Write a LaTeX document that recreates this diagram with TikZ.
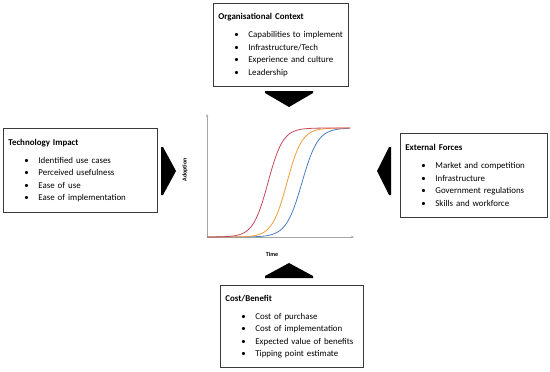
\documentclass[tikz,border=0pt]{standalone}
\usepackage{fontspec}
\setmainfont{Carlito}
\usetikzlibrary{arrows.meta}
\definecolor{frame}{HTML}{3A3A3A}
\definecolor{axisgray}{HTML}{A6A6A6}
\definecolor{curvered}{HTML}{C8475A}
\definecolor{curveorange}{HTML}{F39C38}
\definecolor{curveblue}{HTML}{4A7EC2}
\newcommand{\bul}[1]{\hspace*{16pt}\makebox[14pt][l]{\textbullet}\mbox{#1}}
\tikzset{
  factorbox/.style={draw=frame,line width=.8pt,fill=white,anchor=north west,
    align=left,inner xsep=5pt,inner ysep=4pt,font=\fontsize{8.9}{12.5}\selectfont},
  pointer/.style={fill=black},
  axis/.style={-{Stealth[length=3pt,width=2.5pt]},draw=axisgray,line width=.5pt},
  scurve/.style={line width=.8pt},
  axislabel/.style={font=\fontsize{6}{6}\selectfont\bfseries},
}

\begin{document}
\begin{tikzpicture}[x=1pt,y=-1pt]
\useasboundingbox (0,0) rectangle (550,372);
% factor boxes
\node[factorbox,text width=125pt,minimum height=83pt] (orgctx) at (213,3)
  {\textbf{Organisational Context}\\[5.5pt]\bul{Capabilities to implement}\\\bul{Infrastructure/Tech}\\\bul{Experience and culture}\\\bul{Leadership}};
\node[factorbox,text width=144pt,minimum height=84pt] (techimp) at (3,128)
  {\textbf{Technology Impact}\\[5.5pt]\bul{Identified use cases}\\\bul{Perceived usefulness}\\\bul{Ease of use}\\\bul{Ease of implementation}};
\node[factorbox,text width=137pt,minimum height=84pt] (extforce) at (400,133)
  {\textbf{External Forces}\\[5.5pt]\bul{Market and competition}\\\bul{Infrastructure}\\\bul{Government regulations}\\\bul{Skills and workforce}};
\node[factorbox,text width=133pt,minimum height=82pt] (costben) at (220,285)
  {\textbf{Cost/Benefit}\\[5.5pt]\bul{Cost of purchase}\\\bul{Cost of implementation}\\\bul{Expected value of benefits}\\\bul{Tipping point estimate}};
% pointers towards the chart
\fill[pointer] (265,91) -- (313,91) -- (313,93) -- (289,107) -- (265,93) -- cycle;
\fill[pointer] (161,147) -- (163,147) -- (176,171) -- (163,195) -- (161,195) -- cycle;
\fill[pointer] (391,147) -- (389,147) -- (377,171) -- (389,195) -- (391,195) -- cycle;
\fill[pointer] (265,278) -- (313,278) -- (313,276) -- (289,263) -- (265,276) -- cycle;
% adoption chart
\coordinate (origin) at (207,237);
\coordinate (ytop) at (207,114);
\coordinate (xend) at (354,237);
\draw[axis] (origin) -- (ytop);
\draw[axis] (origin) -- (xend);
\draw[scurve,curveblue] plot[domain=207:350,samples=120] (\x,{237-109/(1+exp(min(9,-(\x-302)/8)))});
\draw[scurve,curveorange] plot[domain=207:350,samples=120] (\x,{237-109/(1+exp(min(9,-(\x-287)/7.5)))});
\draw[scurve,curvered] plot[domain=207:350,samples=120] (\x,{237-109/(1+exp(min(9,-(\x-268)/7.5)))});
\node[axislabel,rotate=90] (adoptlbl) at (185,170) {Adoption};
\node[axislabel] (timelbl) at (272,254) {Time};
\end{tikzpicture}
\end{document}
